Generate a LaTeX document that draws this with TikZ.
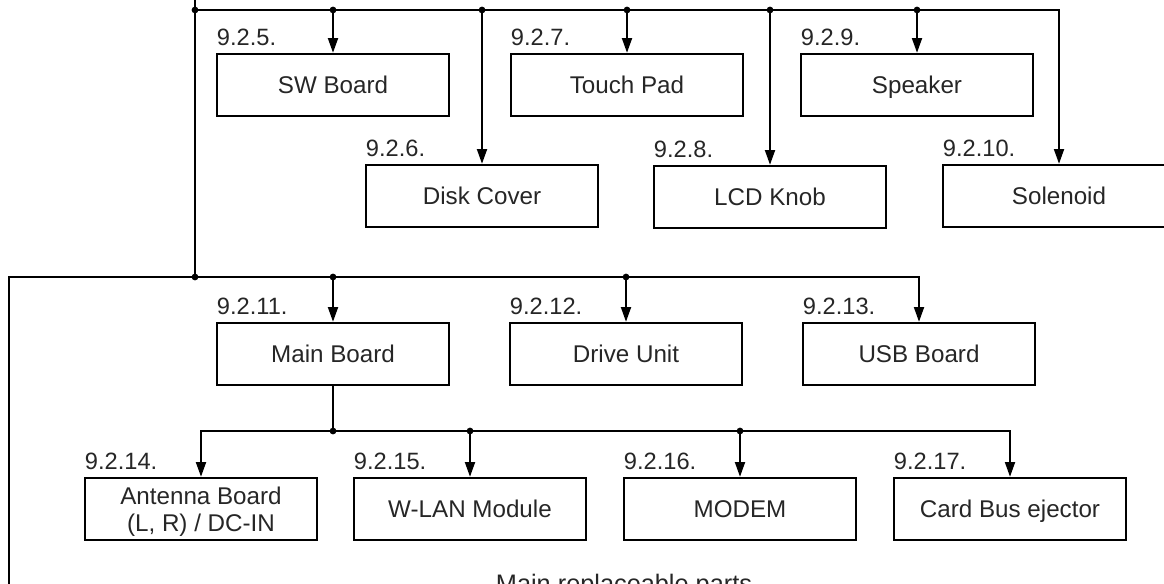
\documentclass[tikz,border=0pt]{standalone}
\usepackage{fontspec}
\setmainfont{Liberation Sans}
\usetikzlibrary{arrows.meta}

\begin{document}
\begin{tikzpicture}[x=0.025cm, y=-0.025cm, line width=1.6pt,
    part/.style={rectangle, draw, minimum width=5.8cm, minimum height=1.55cm, align=center, text height=12.6pt, text depth=0pt, text=black!85, font=\fontsize{17.2}{19}\selectfont},
    num/.style={anchor=south west, inner sep=0pt, yshift=4.5pt, text height=, text depth=, text=black!85, font=\fontsize{16.8}{18}\selectfont},
    feed/.style={-{Triangle[length=10.5pt, width=7pt]}}]
      \clip (0,0) rectangle (1164,584);

      % first group
      \node[part, label={[num]north west:9.2.5.}] (sw) at (333,85) {SW Board};
      \node[part, label={[num]north west:9.2.7.}] (touch) at (627,85) {Touch Pad};
      \node[part, label={[num]north west:9.2.9.}] (speaker) at (917,85) {Speaker};
      \node[part, label={[num]north west:9.2.6.}] (disk) at (482,196) {Disk Cover};
      \node[part, label={[num]north west:9.2.8.}] (knob) at (770,197) {LCD Knob};
      \node[part, label={[num]north west:9.2.10.}] (sol) at (1059,196) {Solenoid};

      % second group
      \node[part, label={[num]north west:9.2.11.}] (main) at (333,354) {Main Board};
      \node[part, label={[num]north west:9.2.12.}] (drive) at (626,354) {Drive Unit};
      \node[part, label={[num]north west:9.2.13.}] (usb) at (919,354) {USB Board};

      % under the main board
      \node[part, text height=, text depth=0pt, font=\fontsize{17.2}{19.5}\selectfont, label={[num]north west:9.2.14.}] (ant) at (201,509) {Antenna Board\\(L, R) / DC-IN};
      \node[part, label={[num]north west:9.2.15.}] (wlan) at (470,509) {W-LAN Module};
      \node[part, label={[num]north west:9.2.16.}] (modem) at (740,509) {MODEM};
      \node[part, label={[num]north west:9.2.17.}] (cardbus) at (1010,509) {Card Bus ejector};

      \node[anchor=base, text=black!85, font=\fontsize{18}{20}\selectfont] (caption) at (624,592) {Main replaceable parts};

      \coordinate (top) at (195,-10);
      \coordinate (t0) at (195,10);
      \coordinate (t1) at (333,10);
      \coordinate (t2) at (482,10);
      \coordinate (t3) at (627,10);
      \coordinate (t4) at (770,10);
      \coordinate (t5) at (917,10);
      \coordinate (t6) at (1059,10);
      \coordinate (m0) at (195,277);
      \coordinate (mL) at (9,277);
      \coordinate (bot) at (9,600);
      \coordinate (m1) at (333,277);
      \coordinate (m2) at (626,277);
      \coordinate (m3) at (919,277);
      \coordinate (b0) at (333,431);
      \coordinate (b1) at (201,431);
      \coordinate (b2) at (470,431);
      \coordinate (b3) at (740,431);
      \coordinate (b4) at (1010,431);

      \draw (top) -- (m0);
      \draw[feed] (t0) -- (t6) -- (sol);
      \draw[feed] (t1) -- (sw);
      \draw[feed] (t2) -- (disk);
      \draw[feed] (t3) -- (touch);
      \draw[feed] (t4) -- (knob);
      \draw[feed] (t5) -- (speaker);

      \draw[feed] (bot) -- (mL) -- (m3) -- (usb);
      \draw[feed] (m1) -- (main);
      \draw[feed] (m2) -- (drive);

      \draw (main) -- (b0);
      \draw[feed] (b0) -- (b1) -- (ant);
      \draw[feed] (b0) -- (b4) -- (cardbus);
      \draw[feed] (b2) -- (wlan);
      \draw[feed] (b3) -- (modem);

      \foreach \j in {t0,t1,t2,t3,t4,t5,m0,m1,m2,b0,b2,b3}
        \fill (\j) circle (2.4pt);
\end{tikzpicture}
\end{document}
